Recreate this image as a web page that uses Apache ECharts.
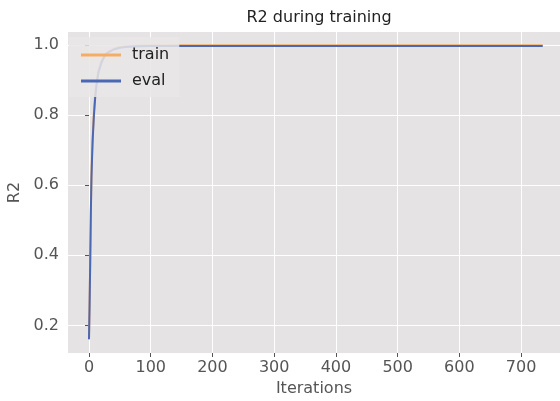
<!DOCTYPE html>
<html>
<head>
<meta charset="utf-8">
<script src="https://cdn.jsdelivr.net/npm/echarts@6/dist/echarts.min.js"></script>
<style>
html, body { margin: 0; padding: 0; background: #fff; }
#main { width: 560px; height: 401px; }
</style>
</head>
<body>
<div id="main"></div>
<script>
// iteration -> R2
var iters = [0, 1, 2, 3, 4, 5, 6, 8, 10, 12, 15, 20, 25, 30, 40, 50, 60, 80, 100, 150, 735];
var trainR2 = [0.16, 0.27, 0.39, 0.53, 0.63, 0.69, 0.74, 0.81, 0.86, 0.89, 0.925, 0.955, 0.972, 0.981, 0.99, 0.995, 0.997, 0.999, 0.9995, 1.0, 1.0];
var evalR2 = [0.16, 0.26, 0.38, 0.52, 0.62, 0.68, 0.73, 0.80, 0.85, 0.885, 0.92, 0.95, 0.968, 0.978, 0.988, 0.993, 0.995, 0.997, 0.998, 0.998, 0.998];
var xTicks = [0, 100, 200, 300, 400, 500, 600, 700];
var yTicks = [0.2, 0.4, 0.6, 0.8, 1.0];

function pairs(xs, ys) {
    return xs.map(function (x, i) { return [x, ys[i]]; });
}

var myChart = echarts.init(document.getElementById('main'));
var grey = '#555555';
var font = 'DejaVu Sans';

myChart.setOption({
    animation: false,
    backgroundColor: '#ffffff',
    title: {
        text: 'R2 during training',
        left: 314,
        textAlign: 'center',
        top: 5,
        textStyle: { fontFamily: font, fontSize: 16, fontWeight: 'normal', color: '#222' }
    },
    legend: {
        orient: 'vertical',
        left: 69,
        top: 37,
        padding: [10, 10, 8, 12],
        itemGap: 10,
        itemWidth: 40,
        itemHeight: 3,
        icon: 'rect',
        backgroundColor: 'rgba(232,230,231,0.85)',
        textStyle: { fontFamily: font, fontSize: 16, color: '#222', padding: [0, 0, 0, 6] },
        data: ['train', 'eval']
    },
    grid: {
        left: 68,
        right: 0,
        top: 32,
        bottom: 48,
        outerBoundsMode: 'none',
        containLabel: false,
        show: true,
        backgroundColor: '#e6e3e4',
        borderWidth: 0
    },
    xAxis: {
        type: 'value',
        min: -34,
        max: 763,
        name: 'Iterations',
        nameLocation: 'middle',
        nameGap: 27,
        nameTextStyle: { fontFamily: font, fontSize: 16, color: grey },
        axisLine: { show: false },
        axisTick: { show: true, length: 4, customValues: xTicks, lineStyle: { color: grey } },
        axisLabel: {
            customValues: xTicks,
            fontFamily: font, fontSize: 16, color: grey, margin: 7
        },
        splitLine: { show: true, lineStyle: { color: '#ffffff', width: 1 } }
    },
    yAxis: {
        type: 'value',
        min: 0.121,
        max: 1.038,
        name: 'R2',
        nameLocation: 'middle',
        nameGap: 44,
        nameTextStyle: { fontFamily: font, fontSize: 16, color: grey },
        axisLine: { show: false },
        axisTick: { show: true, length: 4, customValues: yTicks, lineStyle: { color: grey } },
        axisLabel: {
            customValues: yTicks,
            fontFamily: font, fontSize: 16, color: grey, margin: 9,
            formatter: function (v) { return v.toFixed(1); }
        },
        splitLine: { show: true, lineStyle: { color: '#ffffff', width: 1 } }
    },
    series: [
        {
            name: 'train',
            type: 'line',
            data: pairs(iters, trainR2),
            showSymbol: false,
            color: '#f5ad64',
            lineStyle: { width: 2, color: '#f5ad64' }
        },
        {
            name: 'eval',
            type: 'line',
            data: pairs(iters, evalR2),
            showSymbol: false,
            color: '#4a68b3',
            lineStyle: { width: 2, color: '#4a68b3' }
        }
    ]
});
</script>
</body>
</html>
